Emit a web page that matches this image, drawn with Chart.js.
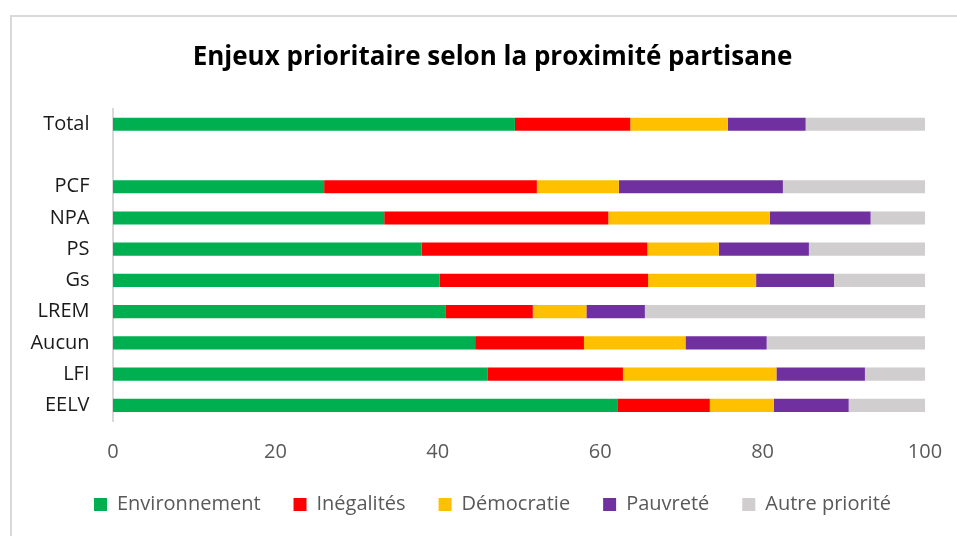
<!DOCTYPE html>
<html>
<head>
<meta charset="utf-8">
<script src="https://cdn.jsdelivr.net/npm/chart.js@4/dist/chart.umd.min.js"></script>
<style>
  html, body { margin: 0; padding: 0; background: #fff; overflow: hidden; }
  #frame { position: absolute; left: 10px; top: 15px; width: 1000px; height: 600px; border: 2px solid #d9d9d9; }
  #wrap { position: absolute; left: 0; top: 0; width: 957px; height: 536px; }
</style>
</head>
<body>
<div id="frame"></div>
<div id="wrap"><canvas id="c" width="957" height="536"></canvas></div>
<script>
const categories = ['Total', '', 'PCF', 'NPA', 'PS', 'Gs', 'LREM', 'Aucun', 'LFI', 'EELV'];
const environnement = [49.5, null, 26.0, 33.4, 38.0, 40.2, 41.0, 44.6, 46.1, 62.1];
const inegalites    = [14.2, null, 26.2, 27.6, 27.8, 25.7, 10.7, 13.4, 16.7, 11.4];
const democratie    = [12.0, null, 10.1, 19.9,  8.8, 13.3,  6.6, 12.5, 18.9,  7.9];
const pauvrete      = [ 9.6, null, 20.2, 12.4, 11.1,  9.6,  7.2, 10.0, 10.9,  9.2];
const autre         = [14.7, null, 17.5,  6.7, 14.3, 11.2, 34.5, 19.5,  7.4,  9.4];
const seriesNames = ['Environnement', 'Inégalités', 'Démocratie', 'Pauvreté', 'Autre priorité'];
const xTicks = [0, 20, 40, 60, 80, 100];
const titleText = 'Enjeux prioritaire selon la proximité partisane';

const colors = ['#00b050', '#ff0000', '#ffc000', '#7030a0', '#d0cece'];
const seriesData = [environnement, inegalites, democratie, pauvrete, autre];

const FONT = "'Open Sans', sans-serif";

new Chart(document.getElementById('c'), {
  type: 'bar',
  data: {
    labels: categories,
    datasets: seriesNames.map((n, i) => ({
      label: n,
      data: seriesData[i],
      backgroundColor: colors[i],
      borderWidth: 0,
      barPercentage: 0.42,
      categoryPercentage: 1.0
    }))
  },
  options: {
    indexAxis: 'y',
    responsive: false,
    animation: false,
    devicePixelRatio: 1,
    layout: { padding: { left: 28, right: 0, top: 0, bottom: 11.5 } },
    plugins: {
      title: {
        display: true,
        text: titleText,
        color: '#000',
        font: { family: FONT, size: 26, weight: 'bold', lineHeight: 1.2 },
        padding: { top: 42.1, bottom: 35.3 }
      },
      legend: {
        position: 'bottom',
        labels: {
          color: '#595959',
          font: { family: FONT, size: 20 },
          boxWidth: 13,
          boxHeight: 13,
          padding: 33
        }
      },
      tooltip: { enabled: false }
    },
    scales: {
      x: {
        stacked: true,
        min: 0,
        max: 100,
        afterBuildTicks: (s) => { s.ticks = xTicks.map(v => ({ value: v })); },
        afterFit: (s) => { s.height = 40.5; s.paddingRight = 0; },
        grid: { display: false, drawTicks: false },
        border: { display: false },
        ticks: { color: '#595959', font: { family: FONT, size: 20 }, padding: 19 }
      },
      y: {
        stacked: true,
        afterFit: (s) => { s.width = 85; },
        grid: { display: false, drawTicks: false },
        border: { display: true, color: '#d9d9d9', width: 2 },
        ticks: { color: '#1a1a1a', font: { family: FONT, size: 20 }, padding: 23.5 }
      },
      y2: {
        position: 'right',
        display: true,
        afterFit: (s) => { s.width = 32; },
        grid: { display: false, drawTicks: false },
        border: { display: false },
        ticks: { display: false }
      }
    }
  }
});
</script>
</body>
</html>
